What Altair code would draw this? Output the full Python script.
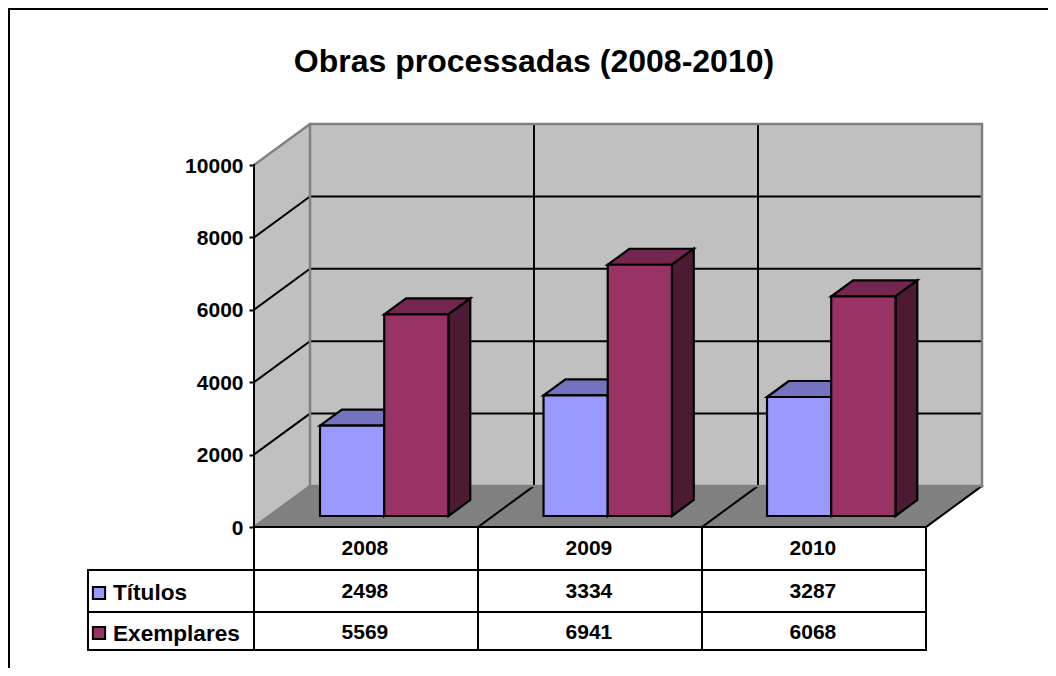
import altair as alt
import pandas as pd

# ---- chart values
years = ["2008", "2009", "2010"]
series = ["Títulos", "Exemplares"]
titulos = [2498, 3334, 3287]
exemplares = [5569, 6941, 6068]
ticks = [0, 2000, 4000, 6000, 8000, 10000]
title_text = "Obras processadas (2008-2010)"

# ---- colours
C_BLUE = ("#9999FF", "#7373BF", "#4D4D80")
C_PURPLE = ("#993366", "#732650", "#4D1A33")
C_WALL, C_FLOOR, C_EDGE = "#C0C0C0", "#808080", "#808080"
FONT = "Liberation Sans"

# ---- layout: oblique projection, in data units
W, H = 1040, 660
CAT_PX, VAL_PX = 224.0, 0.0362     # px per category, px per value unit
ORG_X, ORG_Y = 254.0, 527.0        # page position of (category 0, value 0)
DX, DY = 56 / CAT_PX, 41 / VAL_PX  # depth vector in data units
D0, D1 = 11 / 41, 27 / 41          # bar depth range
B0, BW = 51.0 / CAT_PX, 64.2 / CAT_PX
BAR_STEP = 223.5 / CAT_PX
CELL_MID = 0.495


def ux(page_x):
    return (page_x - ORG_X) / CAT_PX


def uy(page_y):
    return (ORG_Y - page_y) / VAL_PX


xs = alt.Scale(domain=[ux(8), ux(8 + W)], range=[0, W], nice=False, zero=False)
ys = alt.Scale(domain=[uy(8 + H), uy(8)], range=[H, 0], nice=False, zero=False)
AX = alt.Axis(
    values=ticks, orient="left", offset=-(ORG_X - 8), domain=False, grid=False,
    tickColor="#000000", tickSize=5, tickWidth=2,
    labelFont=FONT, labelFontSize=21, labelFontWeight="bold", labelColor="#000000",
    labelPadding=6, labelFlush=False, labelOverlap=False, labelOffset=1, format="d")
X = alt.X("x:Q", scale=xs, axis=None, title=None)
Y = alt.Y("y:Q", scale=ys, axis=AX, title=None, stack=None)


def P(cat, val, d=0.0):
    return cat + d * DX, val + d * DY


vert, horiz, lines = [], [], []


def vface(layer, name, color, stroke, x0, yl0, yh0, x1, yl1, yh1):
    vert.append(dict(layer=layer, id=name, x=x0, y=yl0, y2=yh0, c=color, s=stroke))
    vert.append(dict(layer=layer, id=name, x=x1, y=yl1, y2=yh1, c=color, s=stroke))


def hface(layer, name, color, stroke, y0, xa0, xb0, y1, xa1, xb1):
    horiz.append(dict(layer=layer, id=name, y=y0, x=xa0, x2=xb0, c=color, s=stroke))
    horiz.append(dict(layer=layer, id=name, y=y1, x=xa1, x2=xb1, c=color, s=stroke))


def seg(name, color, width, *pts):
    for i, (x, y) in enumerate(pts):
        lines.append(dict(id=name, i=i, x=x, y=y, c=color, w=width))


TOP = ticks[-1]
N = len(years)

# walls and floor
vface("w", "back", C_WALL, C_WALL, DX, DY, TOP + DY, N + DX, DY, TOP + DY)
vface("w", "side", C_WALL, C_WALL, 0, 0, TOP, DX, DY, TOP + DY)
hface("w", "floor", C_FLOOR, C_FLOOR, 0, 0, N, DY, DX, N + DX)

# grid
for t in ticks[1:-1]:
    seg(f"g{t}", "#000000", 2, P(0, t), P(0, t, 1), P(N, t, 1))
for c in range(1, N):
    seg(f"v{c}", "#000000", 2, P(c, 0, 1), P(c, TOP, 1))
    seg(f"f{c}", "#000000", 2, P(c, 0), P(c, 0, 1))
seg("fr", "#000000", 2, P(N, 0), P(N, 0, 1))
edges = [("e1", P(0, TOP), P(0, TOP, 1), P(N, TOP, 1), P(N, 0, 1)),
         ("e2", P(0, TOP, 1), P(0, 0, 1), P(0, 0)),
         ("e3", P(0, 0, 1), P(N, 0, 1))]
for name, *pts in edges:
    seg(name, C_EDGE, 2.5, *pts)
seg("ax", "#000000", 2, P(0, TOP), P(0, 0), P(N, 0))

# table
rows = [uy(570), uy(612), uy(650)]
LEFT = ux(88)
for i, r in enumerate(rows):
    seg(f"tr{i}", "#000000", 2, (LEFT, r), (N, r))
seg("tl", "#000000", 2, (LEFT, rows[0]), (LEFT, rows[2]))
for c in range(0, N + 1):
    seg(f"tv{c}", "#000000", 2, (c, 0), (c, rows[2]))

# frame
seg("frame", "#000000", 2, (ux(9), uy(8 + H)), (ux(9), uy(9)), (ux(8 + W), uy(9)))

# bars
def bar(layer, cat, sidx, val, cols):
    left = cat * BAR_STEP + B0 + sidx * BW + D0 * DX
    right = left + BW
    nm = f"{layer}{cat}"
    base0 = D0 * DY
    d = (D1 - D0)
    dxx, dyy = d * DX, d * DY
    lo, hi = base0, base0 + val
    hface(layer, nm + "t", cols[1], "#000", hi, left, right, hi + dyy, left + dxx, right + dxx)
    vface(layer, nm + "s", cols[2], "#000", right, lo, hi, right + dxx, lo + dyy, hi + dyy)
    vface(layer, nm + "f", cols[0], "#000", left, lo, hi, right, lo, hi)


for c in range(N):
    bar("a", c, 0, titulos[c], C_BLUE)
    bar("b", c, 1, exemplares[c], C_PURPLE)

vdf, hdf, ldf = pd.DataFrame(vert), pd.DataFrame(horiz), pd.DataFrame(lines)


def faces(layer, sw):
    v = alt.Chart(vdf[vdf.layer == layer]).mark_area(strokeWidth=sw, strokeJoin="miter").encode(
        x=X, y=Y, y2="y2:Q", detail="id:N",
        fill=alt.Fill("c:N", scale=None), stroke=alt.Stroke("s:N", scale=None))
    h = alt.Chart(hdf[hdf.layer == layer]).mark_area(orient="horizontal", strokeWidth=sw, strokeJoin="miter").encode(
        x=X, x2="x2:Q", y=Y, detail="id:N",
        fill=alt.Fill("c:N", scale=None), stroke=alt.Stroke("s:N", scale=None))
    return v, h


w_v, w_h = faces("w", 1)
a_v, a_h = faces("a", 2.2)
b_v, b_h = faces("b", 2.2)

line_layer = alt.Chart(ldf).mark_line(strokeCap="square", strokeJoin="miter").encode(
    x=X, y=Y, detail="id:N", order="i:Q",
    color=alt.Color("c:N", scale=None),
    strokeWidth=alt.StrokeWidth("w:Q", scale=None))

# table text
cells = []
r_mid = [uy(548.5), uy(592), uy(633)]
for c in range(N):
    cells.append(dict(x=c + CELL_MID, y=r_mid[0], t=years[c]))
    cells.append(dict(x=c + CELL_MID, y=r_mid[1], t=str(titulos[c])))
    cells.append(dict(x=c + CELL_MID, y=r_mid[2], t=str(exemplares[c])))
cell_text = alt.Chart(pd.DataFrame(cells)).mark_text(
    font=FONT, fontSize=21, fontWeight="bold", color="#000000", align="center", baseline="middle"
).encode(x=X, y=Y, text="t:N")

leg = pd.DataFrame({"x": [ux(113)] * 2, "kx": [ux(99)] * 2, "y": [uy(593), uy(634)],
                    "ky": [uy(593), uy(633)], "t": series,
                    "c": [C_BLUE[0], C_PURPLE[0]]})
leg_text = alt.Chart(leg).mark_text(
    font=FONT, fontSize=22.6, fontWeight="bold", color="#000000", align="left", baseline="middle"
).encode(x=X, y=Y, text="t:N")
leg_key = alt.Chart(leg).mark_square(size=150, opacity=1, stroke="#000000", strokeWidth=2).encode(
    x=alt.X("kx:Q", scale=xs, axis=None, title=None),
    y=alt.Y("ky:Q", scale=ys, axis=AX, title=None),
    fill=alt.Fill("c:N", scale=None))

chart = alt.layer(
    w_v, w_h, line_layer,
    a_h, a_v, b_h, b_v,
    leg_key, leg_text, cell_text,
).properties(
    width=W, height=H,
    padding=0,
    autosize=alt.AutoSizeParams(type="none"),
    background="#FFFFFF",
    title=alt.TitleParams(title_text, font=FONT, fontSize=32, fontWeight="bold", color="#000000",
                          anchor="middle", dx=6, dy=74, offset=0),
).configure_view(strokeWidth=0)

chart.save("out.html", embed_options={"renderer": "svg", "actions": False})
